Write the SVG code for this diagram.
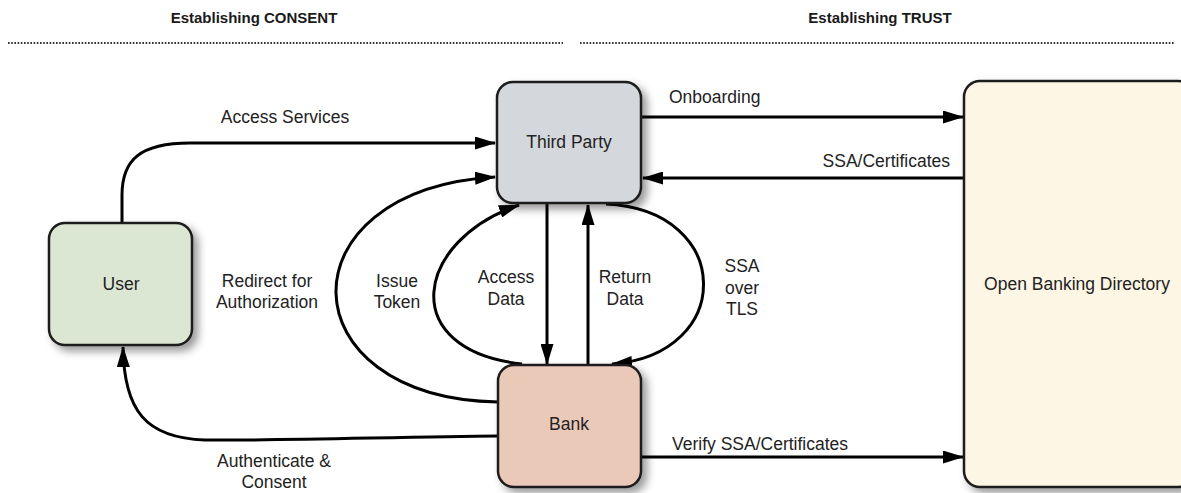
<svg xmlns="http://www.w3.org/2000/svg" width="1181" height="493" viewBox="0 0 1181 493">
  <style>
    .hdr { font-family: "Liberation Sans", Arial, sans-serif; font-size: 15px; font-weight: bold; fill: #1a1a1a; text-anchor: middle; }
    .lbl { font-family: "Liberation Sans", Arial, sans-serif; font-size: 17.5px; fill: #222; }
    .mid { text-anchor: middle; }
    .end { text-anchor: end; }
    .box { stroke: #1c1c1c; stroke-width: 2.5; filter: url(#shadow); }
    .dots { stroke: #333; stroke-width: 2; stroke-dasharray: 1.6 1.6; fill: none; }
    .conn { fill: none; stroke: #000; stroke-width: 3; }
    .arr { marker-end: url(#head); }
  </style>
  <defs>
    <filter id="shadow" x="-20%" y="-20%" width="150%" height="150%">
      <feDropShadow dx="5" dy="5" stdDeviation="4" flood-color="#000" flood-opacity="0.4"/>
    </filter>
    <marker id="head" markerUnits="userSpaceOnUse" markerWidth="21" markerHeight="13" refX="20" refY="6.5" orient="auto">
      <path d="M0,0 L21,6.5 L0,13 z" fill="#000"/>
    </marker>
  </defs>

  <rect width="1181" height="493" fill="#fff"/>

  <!-- section headings -->
  <g id="headings">
    <text class="hdr" x="254" y="23">Establishing CONSENT</text>
    <text class="hdr" x="880" y="23">Establishing TRUST</text>
    <line class="dots" x1="8" y1="43" x2="563" y2="43"/>
    <line class="dots" x1="580" y1="43" x2="1175" y2="43"/>
  </g>

  <!-- connectors -->
  <g id="connectors">
    <!-- Access Services -->
    <path class="conn arr" d="M122 223 L122 195 C122 160 140 143 190 143 L495 143"/>
    <!-- outer left loop: Bank -> Third Party -->
    <path class="conn arr" d="M498 402 C285 398 280 190 495 177"/>
    <!-- inner left loop: Bank -> Third Party -->
    <path class="conn arr" d="M522 364 C395 350 415 240 519 205"/>
    <!-- Access Data -->
    <path class="conn arr" d="M547 203 L547 364"/>
    <!-- Return Data -->
    <path class="conn arr" d="M588 365 L588 205"/>
    <!-- SSA over TLS loop -->
    <path class="conn arr" d="M606 204 C735 210 735 355 612 364"/>
    <!-- Onboarding -->
    <path class="conn arr" d="M641 117 L963 117"/>
    <!-- SSA/Certificates -->
    <path class="conn arr" d="M964 178 L643 178"/>
    <!-- Verify SSA/Certificates -->
    <path class="conn arr" d="M641 457 L963 457"/>
    <!-- Authenticate & Consent -->
    <path class="conn arr" d="M498 436 C400 437 260 441 205 440 C145 438 124 410 123 347"/>
  </g>

  <!-- connector labels -->
  <g id="labels">
    <text class="lbl mid" x="285" y="123">Access Services</text>
    <text class="lbl mid" x="267" y="287">Redirect for</text>
    <text class="lbl mid" x="267" y="308">Authorization</text>
    <text class="lbl mid" x="397" y="287">Issue</text>
    <text class="lbl mid" x="397" y="308">Token</text>
    <text class="lbl mid" x="506" y="283">Access</text>
    <text class="lbl mid" x="506" y="305">Data</text>
    <text class="lbl mid" x="625" y="283">Return</text>
    <text class="lbl mid" x="625" y="305">Data</text>
    <text class="lbl mid" x="742" y="272">SSA</text>
    <text class="lbl mid" x="742" y="294">over</text>
    <text class="lbl mid" x="742" y="315">TLS</text>
    <text class="lbl" x="669" y="103">Onboarding</text>
    <text class="lbl end" x="950" y="167">SSA/Certificates</text>
    <text class="lbl" x="672" y="450">Verify SSA/Certificates</text>
    <text class="lbl mid" x="274" y="467">Authenticate &amp;</text>
    <text class="lbl mid" x="274" y="488">Consent</text>
  </g>

  <!-- nodes -->
  <g id="third-party">
    <rect class="box" x="497" y="82" width="144" height="121" rx="16" fill="#d4d7db"/>
    <text class="lbl mid" x="569" y="148">Third Party</text>
  </g>
  <g id="user">
    <rect class="box" x="49" y="223" width="143" height="122" rx="16" fill="#dbe7d3"/>
    <text class="lbl mid" x="121" y="290">User</text>
  </g>
  <g id="bank">
    <rect class="box" x="498" y="365" width="143" height="122" rx="16" fill="#ebc9b9"/>
    <text class="lbl mid" x="569" y="430">Bank</text>
  </g>
  <g id="open-banking-directory">
    <rect class="box" x="964" y="81" width="230" height="406" rx="16" fill="#fdf6e4"/>
    <text class="lbl mid" x="1077" y="290">Open Banking Directory</text>
  </g>
</svg>
